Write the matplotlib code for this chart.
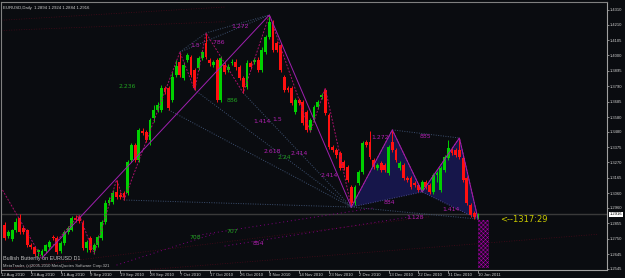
import matplotlib
matplotlib.use("Agg")
import matplotlib.pyplot as plt
from matplotlib.patches import Rectangle, Polygon
from matplotlib.transforms import blended_transform_factory

plt.rcParams["hatch.linewidth"] = 0.35
SMALL = ["Liberation Sans", "DejaVu Sans"]

# ---------------- data (EURUSD daily) ----------------
opens = [1.2844, 1.2769, 1.2748, 1.2809, 1.2891, 1.2823, 1.2809, 1.2707, 1.2694, 1.2659,
         1.2639, 1.2666, 1.2694, 1.2762, 1.2755, 1.2666, 1.2721, 1.2796, 1.2809, 1.2891,
         1.2898, 1.2857, 1.2687, 1.2755, 1.2673, 1.2707, 1.2755, 1.2864, 1.2994, 1.3000,
         1.3069, 1.3048, 1.3062, 1.3062, 1.3287, 1.3389, 1.3287, 1.3485, 1.3478, 1.3423,
         1.3573, 1.3628, 1.3628, 1.3778, 1.3778, 1.3696, 1.3866, 1.3955, 1.3846, 1.3969,
         1.3989, 1.3901, 1.3914, 1.3982, 1.4085, 1.3969, 1.3935, 1.3969, 1.3696, 1.3935,
         1.3901, 1.3948, 1.3955, 1.3921, 1.3846, 1.3785, 1.3948, 1.3955, 1.3969, 1.3901,
         1.4023, 1.4126, 1.4221, 1.4085, 1.4071, 1.3853, 1.3778, 1.3778, 1.3614, 1.3696,
         1.3682, 1.3614, 1.3492, 1.3560, 1.3648, 1.3716, 1.3764, 1.3594, 1.3375, 1.3355,
         1.3335, 1.3273, 1.3239, 1.3103, 1.2994, 1.3130, 1.3205, 1.3410, 1.3410, 1.3287,
         1.3232, 1.3266, 1.3253, 1.3198, 1.3410, 1.3355, 1.3232, 1.3253, 1.3164, 1.3164,
         1.3130, 1.3116, 1.3082, 1.3137, 1.3116, 1.3069, 1.3185, 1.3082, 1.3219, 1.3300,
         1.3355, 1.3355, 1.3355, 1.3300, 1.3164, 1.2980, 1.2925, 1.2894]
highs = [1.2864, 1.2809, 1.2816, 1.2891, 1.2919, 1.2837, 1.2816, 1.2721, 1.2700, 1.2680,
         1.2680, 1.2714, 1.2741, 1.2775, 1.2769, 1.2734, 1.2809, 1.2837, 1.2905, 1.2912,
         1.2912, 1.2878, 1.2741, 1.2769, 1.2721, 1.2775, 1.2878, 1.3014, 1.3035, 1.3082,
         1.3151, 1.3069, 1.3075, 1.3287, 1.3403, 1.3403, 1.3505, 1.3505, 1.3492, 1.3573,
         1.3662, 1.3682, 1.3798, 1.3791, 1.3791, 1.3887, 1.3969, 1.4023, 1.3955, 1.4017,
         1.4003, 1.3914, 1.3996, 1.4037, 1.4153, 1.3982, 1.3969, 1.3982, 1.3996, 1.3955,
         1.3942, 1.3976, 1.3976, 1.3935, 1.3860, 1.3969, 1.3962, 1.3982, 1.3989, 1.4057,
         1.4139, 1.4276, 1.4242, 1.4098, 1.4085, 1.3866, 1.3791, 1.3791, 1.3710, 1.3710,
         1.3696, 1.3628, 1.3573, 1.3662, 1.3696, 1.3744, 1.3778, 1.3607, 1.3389, 1.3369,
         1.3348, 1.3287, 1.3253, 1.3116, 1.3116, 1.3219, 1.3416, 1.3423, 1.3485, 1.3300,
         1.3266, 1.3280, 1.3266, 1.3389, 1.3492, 1.3369, 1.3280, 1.3266, 1.3178, 1.3178,
         1.3144, 1.3130, 1.3151, 1.3151, 1.3130, 1.3198, 1.3212, 1.3246, 1.3321, 1.3423,
         1.3369, 1.3369, 1.3437, 1.3314, 1.3178, 1.2994, 1.2939, 1.2924]
lows = [1.2741, 1.2755, 1.2734, 1.2796, 1.2782, 1.2782, 1.2694, 1.2680, 1.2632, 1.2632,
        1.2618, 1.2653, 1.2680, 1.2741, 1.2646, 1.2653, 1.2707, 1.2782, 1.2803, 1.2864,
        1.2857, 1.2673, 1.2659, 1.2659, 1.2646, 1.2694, 1.2741, 1.2850, 1.2980, 1.2987,
        1.3021, 1.3021, 1.3014, 1.3048, 1.3273, 1.3273, 1.3273, 1.3457, 1.3410, 1.3389,
        1.3546, 1.3614, 1.3614, 1.3737, 1.3628, 1.3682, 1.3853, 1.3853, 1.3833, 1.3955,
        1.3853, 1.3764, 1.3901, 1.3969, 1.3976, 1.3928, 1.3921, 1.3682, 1.3682, 1.3873,
        1.3887, 1.3935, 1.3901, 1.3833, 1.3744, 1.3771, 1.3907, 1.3942, 1.3887, 1.3887,
        1.4010, 1.4112, 1.4023, 1.4023, 1.3887, 1.3751, 1.3751, 1.3662, 1.3601, 1.3662,
        1.3526, 1.3478, 1.3478, 1.3546, 1.3635, 1.3703, 1.3594, 1.3362, 1.3341, 1.3300,
        1.3219, 1.3219, 1.3137, 1.2966, 1.2980, 1.3116, 1.3191, 1.3375, 1.3294, 1.3225,
        1.3219, 1.3205, 1.3205, 1.3185, 1.3341, 1.3273, 1.3219, 1.3151, 1.3137, 1.3089,
        1.3103, 1.3069, 1.3069, 1.3089, 1.3055, 1.3055, 1.3137, 1.3069, 1.3205, 1.3287,
        1.3321, 1.3307, 1.3294, 1.3137, 1.2980, 1.2898, 1.2884, 1.2884]
closes = [1.2755, 1.2796, 1.2809, 1.2864, 1.2796, 1.2796, 1.2707, 1.2694, 1.2646, 1.2673,
          1.2666, 1.2707, 1.2728, 1.2755, 1.2659, 1.2721, 1.2796, 1.2823, 1.2891, 1.2878,
          1.2871, 1.2687, 1.2728, 1.2673, 1.2707, 1.2762, 1.2864, 1.2994, 1.3014, 1.3062,
          1.3035, 1.3035, 1.3035, 1.3273, 1.3389, 1.3287, 1.3492, 1.3471, 1.3423, 1.3560,
          1.3628, 1.3662, 1.3778, 1.3751, 1.3641, 1.3853, 1.3928, 1.3866, 1.3935, 1.4003,
          1.3866, 1.3778, 1.3982, 1.4023, 1.3989, 1.3948, 1.3955, 1.3696, 1.3982, 1.3887,
          1.3921, 1.3955, 1.3921, 1.3846, 1.3785, 1.3948, 1.3921, 1.3969, 1.3901, 1.4037,
          1.4126, 1.4228, 1.4037, 1.4037, 1.3901, 1.3764, 1.3764, 1.3676, 1.3696, 1.3676,
          1.3539, 1.3492, 1.3560, 1.3648, 1.3682, 1.3730, 1.3607, 1.3375, 1.3355, 1.3321,
          1.3232, 1.3232, 1.3151, 1.2994, 1.3103, 1.3205, 1.3403, 1.3389, 1.3307, 1.3239,
          1.3253, 1.3219, 1.3219, 1.3375, 1.3355, 1.3287, 1.3266, 1.3164, 1.3151, 1.3103,
          1.3116, 1.3082, 1.3137, 1.3103, 1.3069, 1.3185, 1.3198, 1.3232, 1.3307, 1.3369,
          1.3335, 1.3321, 1.3307, 1.3151, 1.2994, 1.2912, 1.2898, 1.2916]
first_bar = 1

date_labels = ["12 Aug 2010", "23 Aug 2010", "31 Aug 2010", "9 Sep 2010", "19 Sep 2010",
               "28 Sep 2010", "7 Oct 2010", "17 Oct 2010", "26 Oct 2010", "4 Nov 2010",
               "14 Nov 2010", "23 Nov 2010", "2 Dec 2010", "13 Dec 2010", "22 Dec 2010",
               "31 Dec 2010", "10 Jan 2011"]
date_label_bars = [0, 8, 16, 24, 32, 40, 48, 56, 64, 72, 80, 88, 96, 104, 112, 120, 128]

price_ticks = [1.4310, 1.4210, 1.4105, 1.4000, 1.3895, 1.3790, 1.3685, 1.3580, 1.3480,
               1.3375, 1.3270, 1.3165, 1.3060, 1.2960, 1.2855, 1.2750, 1.2645, 1.2545]
price_tick_labels = ["1.4310", "1.4210", "1.4105", "1.4000", "1.3895", "1.3790", "1.3685",
                     "1.3580", "1.3480", "1.3375", "1.3270", "1.3165", "1.3060", "1.2960",
                     "1.2855", "1.2750", "1.2645", "1.2545"]
bid_price = 1.2916

# zigzag pivots (bar, price)
zz_bars = [0.4, 11, 21, 25, 31, 33, 48, 52, 55, 65, 72, 83, 87, 94, 105, 113, 123, 128]
zz_prices = [1.3082, 1.2618, 1.2912, 1.2646, 1.3151, 1.3014, 1.4023, 1.3764, 1.4153, 1.3744,
             1.4276, 1.3478, 1.3778, 1.2966, 1.3492, 1.3069, 1.3437, 1.2884]

# big butterfly legs X-A-B
big_bars = [11, 72, 94]
big_prices = [1.2618, 1.4276, 1.2966]
# small butterfly X-A-B-C-D
bf_bars = [94, 105, 113, 123, 128]
bf_prices = [1.2966, 1.3492, 1.3069, 1.3437, 1.2884]

# dotted ratio lines (bar0, price0, bar1, price1)
dot_lines = [(48, 1.4023, 55, 1.4153), (55, 1.4153, 72, 1.4276), (48, 1.4023, 72, 1.4276),
             (52, 1.3764, 94, 1.2966), (65, 1.3744, 94, 1.2966), (33, 1.3014, 94, 1.2966),
             (45, 1.3628, 94, 1.2966), (94, 1.2966, 128, 1.2884), (105, 1.3492, 123, 1.3437)]
# faint projection lines (magenta dotted / dark red dotted)
proj_lines = [(31, 1.2570, 57, 1.2782), (52, 1.2770, 100, 1.2960), (60, 1.2700, 110, 1.2900)]
red_lines = [(0.1, 1.4240, 60, 1.4330), (0.1, 1.4170, 60, 1.4230),
             (0.1, 1.2540, 115, 1.2900), (40, 1.2540, 160, 1.2780)]

ratio_texts = ["2.236", "1.5", ".786", "1.272", "886", "1.414", "1.5", "2.618", "2.24",
               "2.414", "2.414", "1.272", "885", "884", "1.128", "1.414", "707", "708", "854"]
ratio_bars = [33.9, 52.2, 58.3, 64.2, 62.0, 70.1, 74.1, 72.8, 76.0, 80.0, 88.0, 101.7, 113.8,
              104.1, 111.1, 120.7, 62.0, 52.1, 69.0]
ratio_prices = [1.3785, 1.4071, 1.4085, 1.4194, 1.3696, 1.3546, 1.3566, 1.3348, 1.3307,
                1.3328, 1.3178, 1.3437, 1.3444, 1.3000, 1.2898, 1.2946, 1.2796, 1.2755, 1.2714]
ratio_green = [True, False, False, False, True, False, False, False, True, False, False,
               False, False, False, False, False, True, True, False]

prz_bars = [128, 131.0]
prz_prices = [1.2550, 1.2878]

# ---------------- figure ----------------
W, H = 625, 278
BG = "#0a0c10"
fig = plt.figure(figsize=(W / 100, H / 100), dpi=100, facecolor=BG)
ax = fig.add_axes([1 / W, 8 / H, 606 / W, 268 / H], facecolor=BG)
ax.set_xlim(0.107, 162.6)
ax.set_ylim(1.25366, 1.43644)

for b0, p0, b1, p1 in red_lines:
    ax.plot([b0, b1], [p0, p1], color="#4a0a1a", lw=0.6, ls=(0, (1, 2)), zorder=1)

# filled butterfly triangles
ax.add_patch(Polygon(list(zip(bf_bars[0:3], bf_prices[0:3])), closed=True,
                     facecolor="#16164a", edgecolor="none", zorder=1.5))
ax.add_patch(Polygon(list(zip(bf_bars[2:5], bf_prices[2:5])), closed=True,
                     facecolor="#16164a", edgecolor="none", zorder=1.5))

# bid line
ax.axhline(bid_price, color="#3a3a3a", lw=1.0, zorder=1.2)

for b0, p0, b1, p1 in dot_lines:
    ax.plot([b0, b1], [p0, p1], color="#3d5070", lw=0.7, ls=(0, (1, 1.5)), zorder=2)
for b0, p0, b1, p1 in proj_lines:
    ax.plot([b0, b1], [p0, p1], color="#800080", lw=0.7, ls=(0, (1, 3)), zorder=2)

# candles
for k in range(len(opens)):
    i = first_bar + k
    o, h, l, c = opens[k], highs[k], lows[k], closes[k]
    col = "#00d000" if c >= o else "#ff1010"
    ax.plot([i, i], [l, h], color=col, lw=0.7, zorder=3, solid_capstyle="butt")
    ax.add_patch(Rectangle((i - 0.38, min(o, c)), 0.76, max(abs(c - o), 0.0004),
                           facecolor=col, edgecolor="none", zorder=3.1))

# zigzag (dashed)
ax.plot(zz_bars, zz_prices, color="#a8106a", lw=0.7, ls=(0, (2, 1.5)), zorder=4)
# butterfly legs (solid)
ax.plot(big_bars, big_prices, color="#a020b0", lw=0.7, zorder=4)
ax.plot(bf_bars, bf_prices, color="#a020b0", lw=0.7, zorder=4)
ax.plot([bf_bars[0], bf_bars[2], bf_bars[4]], [bf_prices[0], bf_prices[2], bf_prices[4]],
        color="#4a4a90", lw=0.7, ls=(0, (1, 1.5)), zorder=4)

# PRZ hatched box
ax.add_patch(Rectangle((prz_bars[0], prz_prices[0]), prz_bars[1] - prz_bars[0],
                       prz_prices[1] - prz_prices[0], facecolor="#1a0a20",
                       edgecolor="#b000b0", hatch="xxxxxxxx", lw=0, zorder=4))

for t, b, p, g in zip(ratio_texts, ratio_bars, ratio_prices, ratio_green):
    ax.text(b, p, t, color="#20a020" if g else "#b020b0", fontsize=4.4,
            ha="center", va="center", zorder=5)

ax.text(133.9, 1.2884, "<--1317:29", color="#c8c800", fontsize=6.0, ha="left",
        va="center", zorder=5)

ax.text(0.004, 0.985, "EURUSD,Daily  1.2894 1.2924 1.2884 1.2916", transform=ax.transAxes,
        color="#d0d0d0", fontsize=3.1, family=SMALL, ha="left", va="top")
ax.text(0.004, 0.034, "Bullish Butterfly on EURUSD D1", transform=ax.transAxes,
        color="#c0c0c0", fontsize=3.9, family=SMALL, ha="left", va="bottom")
ax.text(0.004, 0.006, "MetaTrader, (c)2005-2010 MetaQuotes Software Corp.321",
        transform=ax.transAxes, color="#c0c0c0", fontsize=3.0, family=SMALL,
        ha="left", va="bottom")

for s in ["left", "top"]:
    ax.spines[s].set_color("#808080")
    ax.spines[s].set_linewidth(0.8)
for s in ["right", "bottom"]:
    ax.spines[s].set_color("#a0a0a0")
    ax.spines[s].set_linewidth(0.8)

ax.yaxis.tick_right()
ax.set_yticks(price_ticks)
ax.set_yticklabels(price_tick_labels, family=SMALL)
ax.tick_params(axis="y", colors="#a0a0a0", labelcolor="#d0d0d0", labelsize=3.0,
               length=1.5, width=0.6, pad=0.8)
ax.set_xticks(date_label_bars)
ax.set_xticklabels(date_labels, ha="left", family=SMALL)
ax.tick_params(axis="x", colors="#a0a0a0", labelcolor="#d0d0d0", labelsize=3.1,
               length=2, width=0.6, pad=0.5)

trans = blended_transform_factory(ax.transAxes, ax.transData)
ax.text(1.004, bid_price, "1.2916", transform=trans, color="#000000", fontsize=3.0,
        family=SMALL, ha="left", va="center",
        bbox=dict(boxstyle="square,pad=0.15", facecolor="#ffffff", edgecolor="none"))

fig.savefig("out.png", dpi=100, facecolor=BG)
